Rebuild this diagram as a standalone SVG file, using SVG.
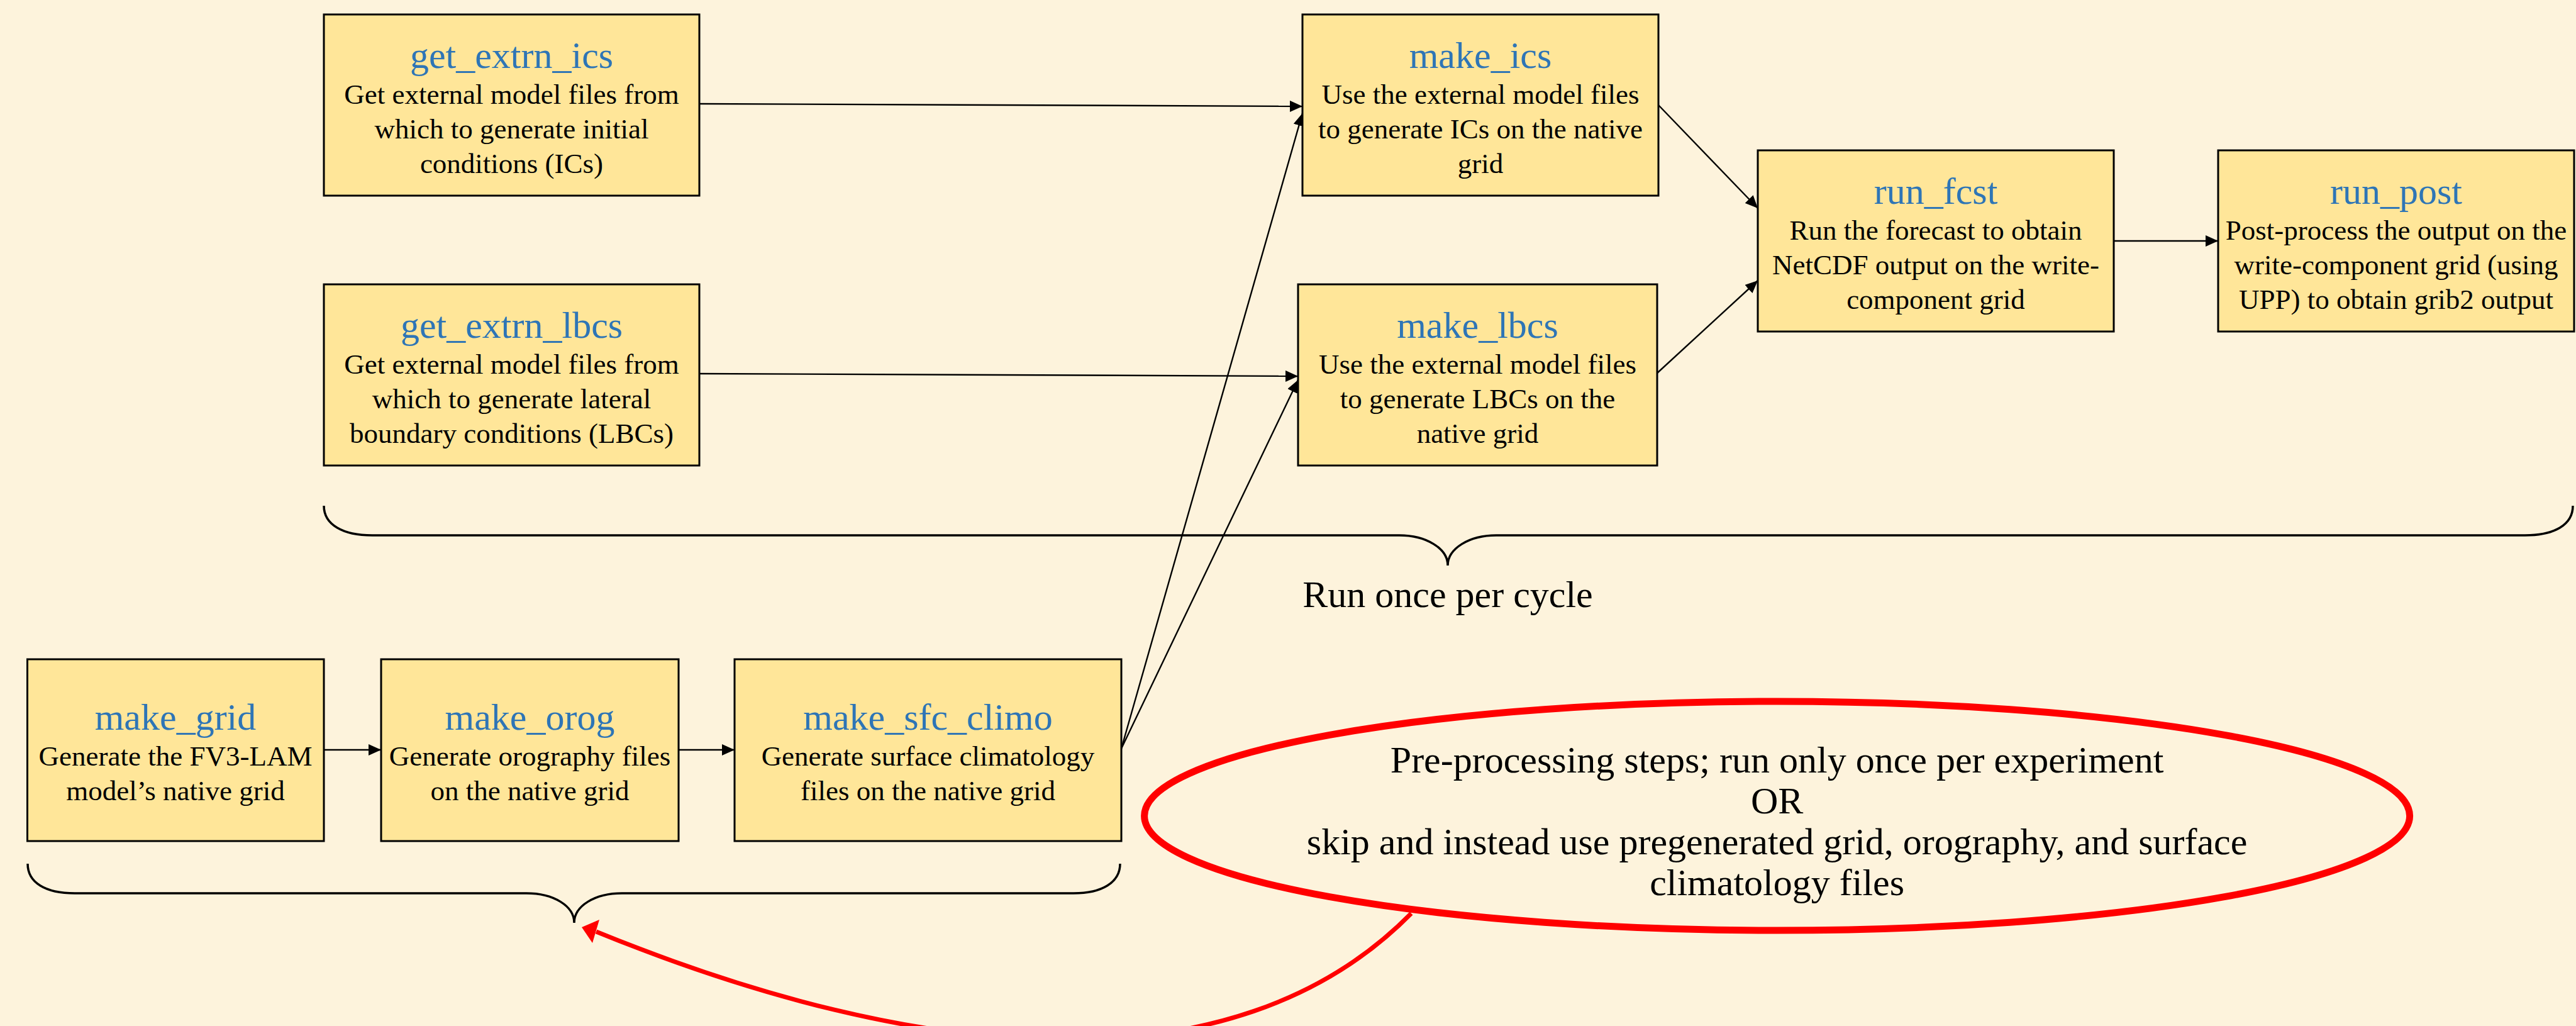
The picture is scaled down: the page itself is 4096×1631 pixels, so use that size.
<svg xmlns="http://www.w3.org/2000/svg" width="4096" height="1631" viewBox="0 0 4096 1631">
<defs>
<style>
.box{fill:#FFE699;stroke:#000;stroke-width:3}
.ttl{font-family:"Liberation Serif","Times New Roman",serif;font-size:60px;fill:#2E75B6;text-anchor:middle}
.bd{font-family:"Liberation Serif","Times New Roman",serif;font-size:45px;fill:#000;text-anchor:middle}
.big{font-family:"Liberation Serif","Times New Roman",serif;font-size:60px;fill:#000;text-anchor:middle}
.con{stroke:#000;stroke-width:2.4;fill:none;marker-end:url(#ah)}
.brace{stroke:#000;stroke-width:3.5;fill:none}
</style>
<marker id="ah" viewBox="0 0 20 18" refX="20" refY="9" markerWidth="20" markerHeight="18" markerUnits="userSpaceOnUse" orient="auto">
<path d="M0,0 L20,9 L0,18 z" fill="#000"/>
</marker>
</defs>
<rect x="0" y="0" width="4096" height="1631" fill="#FDF3DC"/>

<g id="connectors">
<line class="con" x1="1112" y1="165" x2="2071" y2="169"/>
<line class="con" x1="1112" y1="594" x2="2064" y2="598"/>
<line class="con" x1="2637" y1="167" x2="2795" y2="331"/>
<line class="con" x1="2634" y1="594" x2="2795" y2="446"/>
<line class="con" x1="3361" y1="383" x2="3527" y2="383"/>
<line class="con" x1="515" y1="1192" x2="606" y2="1192"/>
<line class="con" x1="1079" y1="1192" x2="1168" y2="1192"/>
<line class="con" stroke-width="2" x1="1783" y1="1190" x2="2071" y2="180"/>
<line class="con" stroke-width="2" x1="1783" y1="1190" x2="2064" y2="604"/>
</g>

<g id="get_extrn_ics">
<rect class="box" x="515" y="23" width="597" height="288"/>
<text class="ttl" x="813.5" y="108">get_extrn_ics</text>
<text class="bd" x="813.5" y="165">Get external model files from</text>
<text class="bd" x="813.5" y="220">which to generate initial</text>
<text class="bd" x="813.5" y="275">conditions (ICs)</text>
</g>

<g id="get_extrn_lbcs">
<rect class="box" x="515" y="452" width="597" height="288"/>
<text class="ttl" x="813.5" y="537">get_extrn_lbcs</text>
<text class="bd" x="813.5" y="594">Get external model files from</text>
<text class="bd" x="813.5" y="649">which to generate lateral</text>
<text class="bd" x="813.5" y="704">boundary conditions (LBCs)</text>
</g>

<g id="make_ics">
<rect class="box" x="2071" y="23" width="566" height="288"/>
<text class="ttl" x="2354" y="108">make_ics</text>
<text class="bd" x="2354" y="165">Use the external model files</text>
<text class="bd" x="2354" y="220">to generate ICs on the native</text>
<text class="bd" x="2354" y="275">grid</text>
</g>

<g id="make_lbcs">
<rect class="box" x="2064" y="452" width="571" height="288"/>
<text class="ttl" x="2349.5" y="537">make_lbcs</text>
<text class="bd" x="2349.5" y="594">Use the external model files</text>
<text class="bd" x="2349.5" y="649">to generate LBCs on the</text>
<text class="bd" x="2349.5" y="704">native grid</text>
</g>

<g id="run_fcst">
<rect class="box" x="2795" y="239" width="566" height="288"/>
<text class="ttl" x="3078" y="324">run_fcst</text>
<text class="bd" x="3078" y="381">Run the forecast to obtain</text>
<text class="bd" x="3078" y="436">NetCDF output on the write-</text>
<text class="bd" x="3078" y="491">component grid</text>
</g>

<g id="run_post">
<rect class="box" x="3527" y="239" width="566" height="288"/>
<text class="ttl" x="3810" y="324">run_post</text>
<text class="bd" x="3810" y="381">Post-process the output on the</text>
<text class="bd" x="3810" y="436">write-component grid (using</text>
<text class="bd" x="3810" y="491">UPP) to obtain grib2 output</text>
</g>

<g id="make_grid">
<rect class="box" x="43.5" y="1048" width="471.5" height="289"/>
<text class="ttl" x="279" y="1160">make_grid</text>
<text class="bd" x="279" y="1217">Generate the FV3-LAM</text>
<text class="bd" x="279" y="1272">model’s native grid</text>
</g>

<g id="make_orog">
<rect class="box" x="606" y="1048" width="473" height="289"/>
<text class="ttl" x="842.5" y="1160">make_orog</text>
<text class="bd" x="842.5" y="1217">Generate orography files</text>
<text class="bd" x="842.5" y="1272">on the native grid</text>
</g>

<g id="make_sfc_climo">
<rect class="box" x="1168" y="1048" width="615" height="289"/>
<text class="ttl" x="1475.5" y="1160">make_sfc_climo</text>
<text class="bd" x="1475.5" y="1217">Generate surface climatology</text>
<text class="bd" x="1475.5" y="1272">files on the native grid</text>
</g>

<g id="cycle_brace">
<path class="brace" d="M515,804 C515,834 545,851 592,851 L2225,851 C2268,851 2302,872 2302,899 C2302,872 2336,851 2379,851 L4015,851 C4062,851 4091,834 4091,804"/>
<text class="big" x="2302" y="965">Run once per cycle</text>
</g>

<g id="preproc_brace">
<path class="brace" d="M44,1373 C44,1403 72,1420 119,1420 L837,1420 C880,1420 913,1440 913,1467 C913,1440 946,1420 989,1420 L1707,1420 C1752,1420 1781,1403 1781,1373"/>
</g>

<g id="preproc_note">
<ellipse cx="2825.6" cy="1297" rx="1006" ry="182" fill="none" stroke="#FF0000" stroke-width="11"/>
<text class="big" x="2825.6" y="1228">Pre-processing steps; run only once per experiment</text>
<text class="big" x="2825.6" y="1293">OR</text>
<text class="big" x="2825.6" y="1358">skip and instead use pregenerated grid, orography, and surface</text>
<text class="big" x="2825.6" y="1423">climatology files</text>
<path d="M2244,1452 C1960,1740 1460,1690 948,1481" fill="none" stroke="#FF0000" stroke-width="7"/>
<polygon points="925,1474 953,1462 942,1499" fill="#FF0000"/>
</g>
</svg>
